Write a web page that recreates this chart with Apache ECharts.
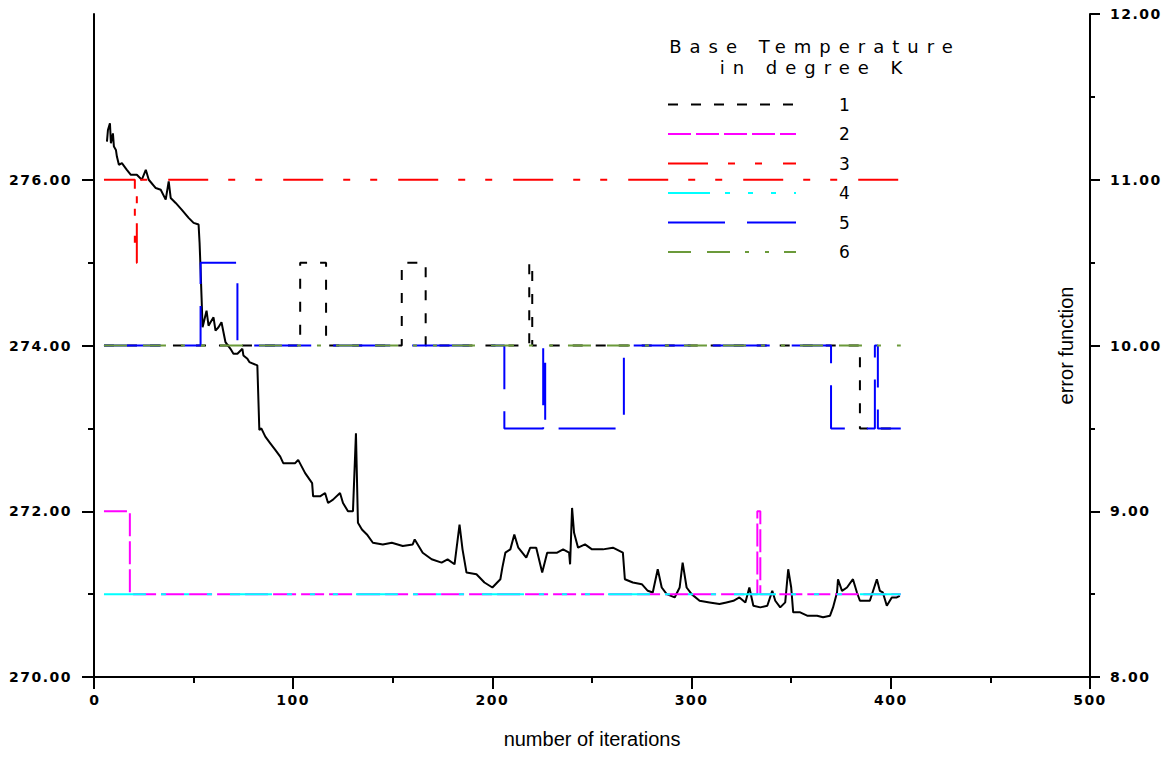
<!DOCTYPE html>
<html>
<head>
<meta charset="utf-8">
<title>Base Temperature</title>
<script src="https://cdn.jsdelivr.net/npm/echarts@6.0.0/dist/echarts.min.js"></script>
<style>
    html, body { margin: 0; padding: 0; background: #fff; }
    #chart-show { width: 1169px; height: 757px; }
</style>
</head>
<body>
<div id="chart-show"></div>
<script>
// left axis: base temperature (K), right axis: error function
var leftMajor = [270, 272, 274, 276];
var leftMinor = [271, 273, 275];

// temperature step series, [iteration, value] where value changes
var temp1 = [[5, 274], [103.5, 275], [116.5, 274], [154.5, 275], [166.5, 274], [218.5, 275], [220, 274], [384.5, 273], [405, 273]];
var temp2 = [[5, 272], [18, 271], [333, 272], [334.5, 271], [405, 271]];
var temp3 = [[5, 276], [20.5, 275], [21.5, 276], [405, 276]];
var temp4 = [[5, 271], [405, 271]];
var temp5 = [[5, 274], [53.5, 275], [72, 274], [206, 273], [225.5, 274], [226.5, 273], [266, 274], [370, 273], [392, 274], [393.5, 273], [405, 273]];
var temp6 = [[5, 274], [405, 274]];

// error function
var errIter = [6.5, 7, 8, 8.5, 9.5, 10, 11, 11.5, 12.5, 14, 16.5, 18.5, 21.5, 24, 26, 27.5, 31, 33.5, 36, 37.5,
    38.5, 41, 44, 47.5, 50, 52.5, 53, 53.5, 54, 54.5, 56.5, 57.5, 58.5, 60, 61, 62.5, 64, 66, 68.5, 70,
    72, 74.5, 75, 77, 78, 82, 83, 84, 86, 88.5, 91, 93.5, 95, 101, 102.5, 106, 109.5, 110, 113.5, 116,
    117.5, 120, 123.5, 125, 127.5, 130, 131.5, 132.5, 134.5, 137, 140, 145, 149.5, 155, 160, 161, 165, 169.5, 174.5, 177.5,
    181, 183.5, 185, 187, 192, 196, 200, 204, 205, 206.5, 209, 211, 213, 217, 219, 222, 225, 227.5, 232.5, 235.5,
    238.5, 239, 240, 241, 243, 246.5, 250, 255.5, 260.5, 265.5, 266.5, 270.5, 275, 278, 280.5, 283, 285, 287.5, 291.5, 294,
    295.5, 297.5, 300, 304, 309, 314, 317.5, 321, 324, 327, 329, 331, 334.5, 338, 340.5, 342, 344.5, 347, 348.5, 350,
    351, 354.5, 358, 363, 366, 369.5, 371, 373, 373.5, 375.5, 378, 381, 383, 384.5, 389.5, 393, 394.5, 396, 398, 400.5,
    403, 404.5];
var errValue = [11.23, 11.30, 11.34, 11.22, 11.28, 11.20, 11.18, 11.14, 11.09, 11.10, 11.06, 11.03, 11.03, 11.00, 11.06, 11.00, 10.95, 10.94, 10.88, 10.99,
    10.89, 10.86, 10.82, 10.77, 10.74, 10.73, 10.62, 10.46, 10.29, 10.11, 10.21, 10.12, 10.14, 10.17, 10.09, 10.11, 10.14, 10.02, 9.98, 9.95,
    9.95, 9.98, 9.94, 9.92, 9.90, 9.88, 9.49, 9.50, 9.45, 9.41, 9.37, 9.33, 9.29, 9.29, 9.31, 9.23, 9.17, 9.09, 9.09, 9.11,
    9.05, 9.07, 9.11, 9.05, 9.00, 9.00, 9.47, 8.93, 8.89, 8.86, 8.81, 8.80, 8.81, 8.79, 8.80, 8.83, 8.75, 8.71, 8.69, 8.71,
    8.68, 8.92, 8.77, 8.63, 8.62, 8.57, 8.54, 8.59, 8.66, 8.75, 8.77, 8.86, 8.78, 8.72, 8.78, 8.78, 8.63, 8.75, 8.75, 8.77,
    8.75, 8.68, 9.02, 8.87, 8.78, 8.80, 8.77, 8.77, 8.78, 8.75, 8.59, 8.57, 8.56, 8.52, 8.51, 8.65, 8.54, 8.50, 8.48, 8.54,
    8.69, 8.54, 8.50, 8.46, 8.45, 8.44, 8.45, 8.46, 8.48, 8.45, 8.54, 8.43, 8.42, 8.43, 8.52, 8.46, 8.42, 8.45, 8.65, 8.54,
    8.39, 8.39, 8.37, 8.37, 8.36, 8.37, 8.42, 8.51, 8.59, 8.52, 8.54, 8.59, 8.51, 8.46, 8.46, 8.59, 8.52, 8.51, 8.43, 8.48,
    8.48, 8.49];

var chart = echarts.init(document.getElementById('chart-show'), null, { renderer: 'svg' });

var errData = errIter.map(function (x, i) { return [x, errValue[i]]; });

function stepSeries(name, data, color, dash) {
    return {
        name: name,
        type: 'line',
        step: 'end',
        data: data,
        yAxisIndex: 0,
        symbol: 'none',
        color: color,
        lineStyle: { color: color, width: 2, type: dash },
        z: 3
    };
}

var labelFont = { color: '#000', fontFamily: 'DejaVu Sans', fontWeight: 'bold', fontSize: 14 };
var blackLine = { color: '#000', width: 2 };

var option = {
    animation: false,
    backgroundColor: '#fff',
    grid: { left: 94, right: 79, top: 14, bottom: 80, outerBoundsMode: 'none' },
    legend: {
        orient: 'vertical',
        left: 662,
        top: 91,
        itemWidth: 128,
        itemHeight: 20,
        itemGap: 12.5,
        data: ['1', '2', '3', '4', '5', '6'],
        itemStyle: { color: 'rgba(0,0,0,0)', borderWidth: 0 },
        textStyle: { color: '#000', fontFamily: 'DejaVu Sans', fontSize: 17, padding: [0, 0, 0, 38] }
    },
    graphic: [{
        type: 'text',
        style: {
            text: 'Base Temperature\nin degree K',
            x: 815, y: 36,
            textAlign: 'center',
            fill: '#000',
            font: '18px "DejaVu Sans"',
            lineHeight: 21
        }
    }],
    xAxis: {
        type: 'value',
        min: 0, max: 500, interval: 100,
        name: 'number of iterations',
        nameLocation: 'middle',
        nameGap: 52,
        nameMoveOverlap: false,
        nameTextStyle: { color: '#000', fontFamily: 'Liberation Sans', fontSize: 20 },
        axisLine: { onZero: false, lineStyle: blackLine },
        axisTick: { length: 12, lineStyle: blackLine },
        minorTick: { show: true, splitNumber: 2, length: 6, lineStyle: blackLine },
        axisLabel: Object.assign({ margin: 16 }, labelFont),
        splitLine: { show: false }
    },
    yAxis: [{
        type: 'value',
        position: 'left',
        min: 270, max: 278,
        axisLine: { onZero: false, lineStyle: blackLine },
        axisTick: { customValues: leftMajor, length: 12, lineStyle: blackLine },
        axisLabel: Object.assign({
            customValues: leftMajor, margin: 22,
            formatter: function (v) { return v.toFixed(2); }
        }, labelFont),
        splitLine: { show: false }
    }, {
        type: 'value',
        position: 'right',
        min: 8, max: 12, interval: 1,
        name: 'error function',
        nameLocation: 'middle',
        nameRotate: 90,
        nameGap: -34,
        nameMoveOverlap: false,
        nameTextStyle: { color: '#000', fontFamily: 'Liberation Sans', fontSize: 20 },
        axisLine: { onZero: false, lineStyle: blackLine },
        axisTick: { length: 10, lineStyle: blackLine },
        minorTick: { show: true, splitNumber: 2, length: 5, lineStyle: blackLine },
        axisLabel: Object.assign({
            margin: 20,
            formatter: function (v) { return v.toFixed(2); }
        }, labelFont),
        splitLine: { show: false }
    }, {
        // minor ticks of the left axis
        type: 'value',
        position: 'left',
        min: 270, max: 278,
        axisLine: { show: false },
        axisTick: { customValues: leftMinor, length: 6, lineStyle: blackLine },
        axisLabel: { show: false },
        splitLine: { show: false }
    }],
    series: [
        stepSeries('1', temp1, '#000000', [10, 13]),
        stepSeries('2', temp2, '#ff00ff', [23, 5]),
        stepSeries('3', temp3, '#ff0000', [40, 20, 7, 20, 7, 21]),
        stepSeries('4', temp4, '#00ffff', [42, 15, 5, 18, 5, 18, 5, 18]),
        stepSeries('5', temp5, '#0000ff', [57, 22]),
        stepSeries('6', temp6, '#6b9a3a', [23, 16, 23, 15, 4, 16, 4, 15]),
        {
            name: 'error',
            type: 'line',
            yAxisIndex: 1,
            data: errData,
            symbol: 'none',
            color: '#000',
            lineStyle: { color: '#000', width: 2 },
            z: 2
        }
    ]
};

// the original uses widely spaced lettering for the title and tick labels
function spaceLetters() {
    var texts = document.querySelectorAll('#chart-show text');
    for (var i = 0; i < texts.length; i++) {
        var s = texts[i].textContent;
        if (s === 'Base Temperature' || s === 'in degree K') {
            texts[i].style.letterSpacing = '8px';
        } else if (/^[0-9.]+$/.test(s) && s.length > 1) {
            texts[i].style.letterSpacing = '1.5px';
        }
    }
}

chart.on('finished', spaceLetters);
chart.setOption(option);
spaceLetters();
window.onresize = function () {
    chart.resize();
};
</script>
</body>
</html>
